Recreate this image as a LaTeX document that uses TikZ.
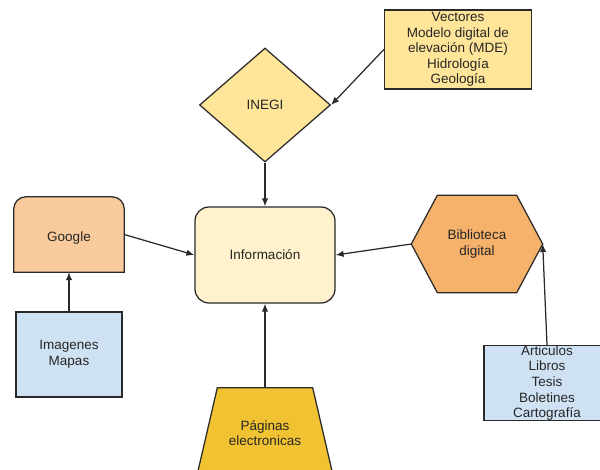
\documentclass[tikz,border=0pt]{standalone}
\usepackage{fontspec}
\setmainfont{Liberation Sans}
\usetikzlibrary{shapes.geometric,arrows.meta,calc,backgrounds}
\definecolor{cvec}{HTML}{FFE599}
\definecolor{cinfo}{HTML}{FFF2CC}
\definecolor{cgoog}{HTML}{F9CB9C}
\definecolor{cbib}{HTML}{F6B26B}
\definecolor{cblue}{HTML}{CFE2F3}
\definecolor{cpag}{HTML}{F1C232}
\definecolor{cline}{HTML}{2A2A2A}
\definecolor{ctext}{HTML}{262626}
\tikzset{
  lbl/.style={font=\fontsize{13.5pt}{15.6pt}\selectfont, text=ctext, align=center, inner sep=0pt},
  boxdraw/.style={draw=cline, line width=1.25pt},
  conn/.style={draw=cline, line width=1.25pt, -{Latex[length=8pt,width=6.5pt]}},
}
\begin{document}
\begin{tikzpicture}[x=1pt,y=-1pt]
\useasboundingbox (0,0) rectangle (600,469);
\clip (0,0) rectangle (600,469);
% nodes
\node[lbl, boxdraw, fill=cvec, rectangle, minimum width=147pt, minimum height=79pt] (vec) at (458,49.5)
  {Vectores\\Modelo digital de\\elevación (MDE)\\Hidrología\\Geología};
\node[lbl, boxdraw, fill=cvec, diamond, minimum width=131pt, minimum height=114pt] (inegi) at (265,105) {INEGI};
\node[lbl, boxdraw, fill=cinfo, rectangle, rounded corners=14pt, minimum width=140pt, minimum height=96pt] (info) at (265,255) {Información};
\node[lbl, rectangle, minimum width=110pt, minimum height=75pt, text height=14pt, text depth=0pt] (google) at (69,234.5) {Google};
\node[lbl, boxdraw, fill=cblue, rectangle, minimum width=106pt, minimum height=85pt] (img) at (69,354.5) {Imagenes\\Mapas};
\node[lbl, rectangle, minimum width=131pt, minimum height=97pt] (bib) at (477,244) {Biblioteca\\digital};
\node[lbl, boxdraw, fill=cblue, rectangle, minimum width=126pt, minimum height=74pt] (art) at (547,383)
  {Articulos\\Libros\\Tesis\\Boletines\\Cartografía};
\node[lbl, rectangle, minimum width=95pt, minimum height=90pt] (pag) at (265,433) {Páginas\\electronicas};
% background shapes
\begin{scope}[on background layer]
  \draw[boxdraw, fill=cgoog] (google.south west) [rounded corners=12pt] -- (google.north west) -- (google.north east) [sharp corners] -- (google.south east) -- cycle;
  \draw[boxdraw, fill=cbib, line join=round] (bib.west) -- ($(bib.north west)+(26,0)$) -- ($(bib.north east)+(-26,0)$) -- (bib.east) -- ($(bib.south east)+(-26,0)$) -- ($(bib.south west)+(26,0)$) -- cycle;
  \draw[boxdraw, fill=cpag] (pag.north west) -- (pag.north east) -- ($(pag.south east)+(21,0)$) -- ($(pag.south west)+(-21,0)$) -- cycle;
\end{scope}
% connectors
\draw[conn] (vec.west) -- (inegi.east);
\draw[conn] (inegi.south) -- (info.north);
\draw[conn] (google.east) -- (info.west);
\draw[conn] (img.north) -- (google.south);
\draw[conn] (bib.west) -- (info.east);
\draw[conn] (art.north) -- (bib.east);
\draw[conn] (pag.north) -- (info.south);
\end{tikzpicture}
\end{document}
